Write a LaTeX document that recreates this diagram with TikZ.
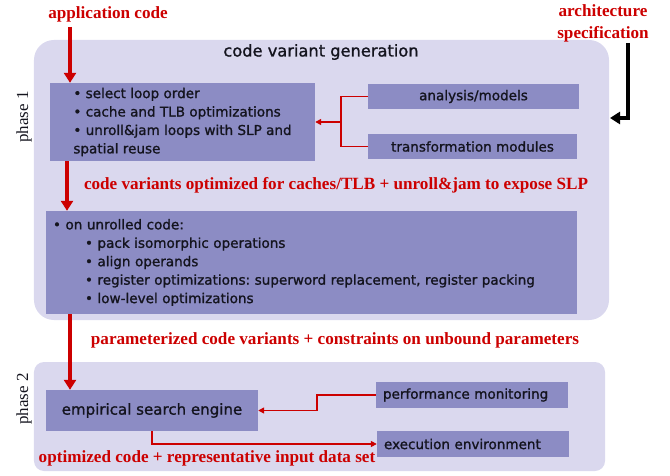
\documentclass[tikz,border=0pt]{standalone}
\usepackage{fontspec}
\setmainfont{Liberation Serif}
\setsansfont{DejaVu Sans}
\newfontfamily\boxfont{DejaVu Sans}[FakeBold=1.2]
\usetikzlibrary{arrows.meta}
\frenchspacing

\definecolor{panelfill}{RGB}{218,216,238}
\definecolor{boxfill}{RGB}{140,140,196}
\definecolor{darkred}{RGB}{204,0,0}
\definecolor{boxtext}{RGB}{20,20,30}

\begin{document}
\begin{tikzpicture}[
  x=1bp, y=-1bp,
  every node/.style={font=\boxfont\fontsize{13.6}{18.5}\selectfont, text=boxtext},
  panel/.style={fill=panelfill, inner sep=0pt},
  box/.style={fill=boxfill, inner sep=0pt},
  redlbl/.style={text=darkred, font=\bfseries\fontsize{17.2}{22}\selectfont},
  phaselbl/.style={rotate=90, font=\fontsize{17}{18}\selectfont},
  bigarrow/.style={draw=darkred, line width=4bp, -{Triangle[width=12bp,length=10bp]}},
  link/.style={draw=darkred, line width=1.6bp},
  linkarrow/.style={link, -{Triangle[width=6bp,length=6bp]}}
]
\useasboundingbox (0,0) rectangle (670,476);

% Phase panels
\node[panel, rounded corners=20bp, minimum width=575bp, minimum height=280bp] (phaseone) at (321.5,180) {};
\node[panel, rounded corners=10bp, minimum width=571bp, minimum height=109bp] (phasetwo) at (319.5,416.5) {};
\node[phaselbl] (ponelbl) at (24,117) {phase 1};
\node[phaselbl] (ptwolbl) at (24,399) {phase 2};
\node[font=\boxfont\fontsize{16.3}{18}\selectfont] (title) at (321,52) {code variant generation};

% Phase 1 boxes
\node[box, align=left, minimum width=265bp, minimum height=78bp] (sel) at (182.5,122)
  {\textbullet{} select loop order\\
   \textbullet{} cache and TLB optimizations\\
   \textbullet{} unroll\&jam loops with SLP and\\
   spatial reuse};
\node[box, minimum width=211bp, minimum height=25bp] (models) at (473.5,96.5) {analysis/models};
\node[box, minimum width=209bp, minimum height=25bp] (transf) at (472.5,146.5) {transformation modules};
\node[box, align=left, text width=517bp, inner xsep=7bp, minimum height=103bp] (slp) at (311.5,262.5)
  {\textbullet{} on unrolled code:\\
   \hspace*{32bp}\textbullet{} pack isomorphic operations\\
   \hspace*{32bp}\textbullet{} align operands\\
   \hspace*{32bp}\textbullet{} register optimizations: superword replacement, register packing\\
   \hspace*{32bp}\textbullet{} low-level optimizations};

% Phase 2 boxes
\node[box, minimum width=212bp, minimum height=41bp, font=\boxfont\fontsize{15.1}{17}\selectfont] (search) at (152,410.5) {empirical search engine};
\node[box, align=left, text width=178bp, inner xsep=7bp, minimum height=26bp] (perf) at (472,395) {performance monitoring};
\node[box, align=left, text width=178bp, inner xsep=7bp, minimum height=26bp] (exec) at (473,444) {execution environment};

% Red labels
\node[redlbl] (appl) at (108,14) {application code};
\node[redlbl, align=center] (arch) at (603,23) {architecture\\specification};
\node[redlbl] (variants) at (336,185) {code variants optimized for caches/TLB + unroll\&jam to expose SLP};
\node[redlbl] (params) at (335,340) {parameterized code variants + constraints on unbound parameters};
\node[redlbl] (optcode) at (207,458) {optimized code + representative input data set};

% Main flow
\coordinate (applout) at (70,27);
\coordinate (flowa) at (67,0);
\coordinate (flowb) at (70,0);
\draw[bigarrow] (applout) -- (applout |- sel.north);
\draw[bigarrow] (flowa |- sel.south) -- (flowa |- slp.north);
\draw[bigarrow] (flowb |- slp.south) -- (flowb |- search.north);

% Architecture input
\coordinate (archout) at (628,43);
\coordinate (archin) at (610,118);
\draw[line width=4bp, line join=miter, -{Triangle[width=12bp,length=10bp]}] (archout) |- (archin);

% Feedback links
\coordinate (split) at (341,122);
\draw[link] (models.west) -| (split) |- (transf.west);
\draw[linkarrow] (split) -- (sel.east);
\coordinate (bend) at (317,0);
\draw[linkarrow] (perf.west) -- (perf.west -| bend) |- (search.east);
\draw[linkarrow] (search.south) |- (exec.west);

\end{tikzpicture}
\end{document}
